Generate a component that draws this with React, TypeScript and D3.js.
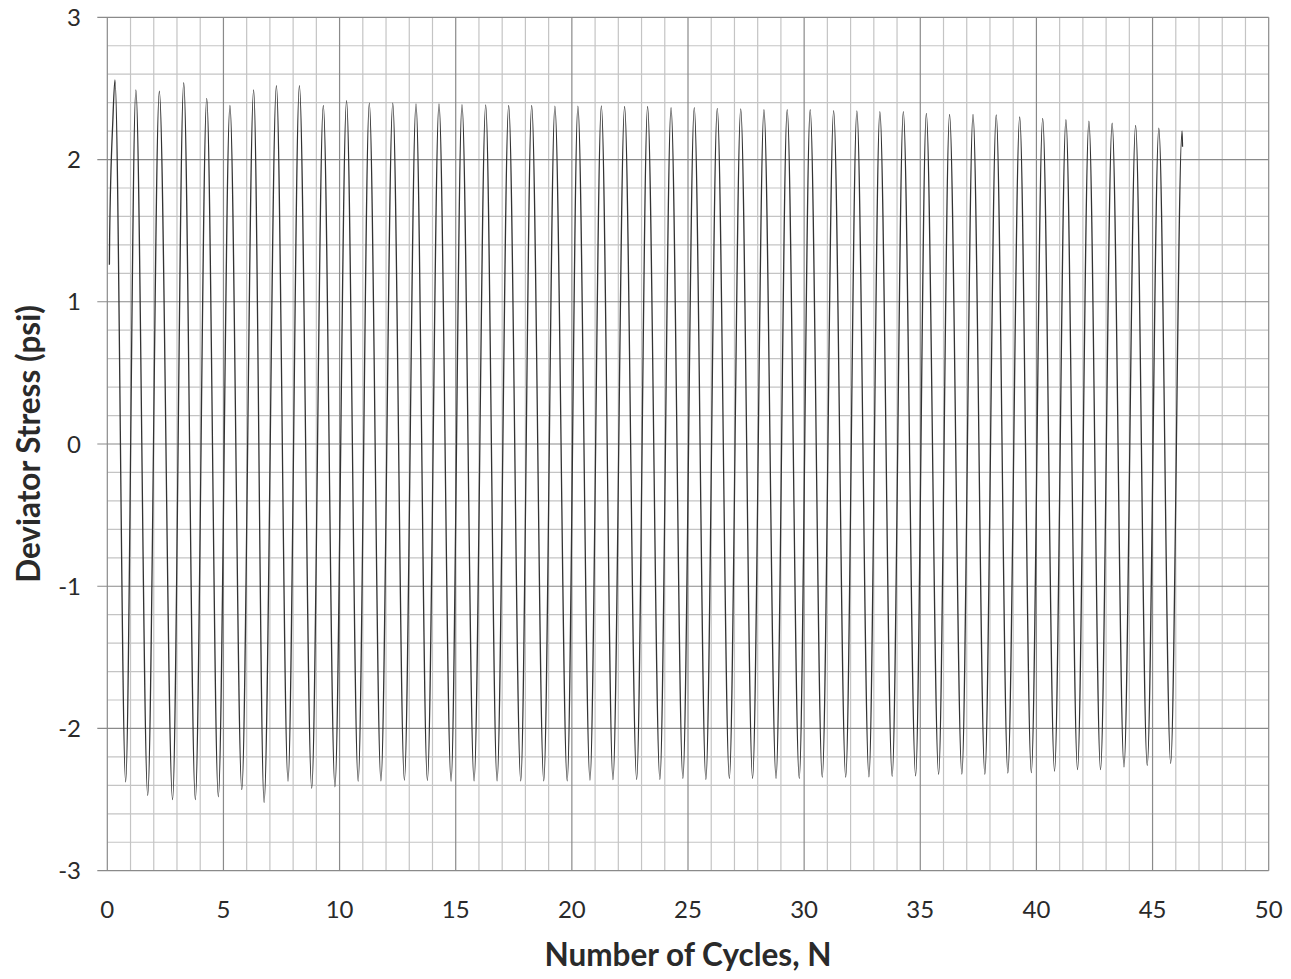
import React from 'react';
import * as d3 from 'd3';

// ---- data ----
const startCycle = [0.09, 0.10, 0.24];
const startStress = [1.26, 1.45, 2.28];

const peakCycle = [
  0.33, 1.23, 2.24, 3.29, 4.28, 5.28, 6.30, 7.28, 8.27, 9.30,
  10.30, 11.28, 12.29, 13.29, 14.28, 15.27, 16.29, 17.28, 18.27, 19.27,
  20.26, 21.27, 22.27, 23.26, 24.27, 25.27, 26.26, 27.27, 28.27, 29.27,
  30.26, 31.27, 32.27, 33.26, 34.27, 35.26, 36.26, 37.27, 38.27, 39.28,
  40.27, 41.27, 42.26, 43.26, 44.27, 45.27, 46.27,
];
const peakStress = [
  2.56, 2.49, 2.48, 2.54, 2.43, 2.38, 2.49, 2.52, 2.52, 2.38,
  2.414, 2.396, 2.396, 2.391, 2.391, 2.386, 2.384, 2.38, 2.38, 2.375,
  2.375, 2.377, 2.373, 2.373, 2.364, 2.365, 2.36, 2.356, 2.35, 2.35,
  2.35, 2.344, 2.342, 2.337, 2.337, 2.325, 2.318, 2.318, 2.314, 2.30,
  2.29, 2.28, 2.27, 2.255, 2.24, 2.22, 2.20,
];

const troughCycle = [
  0.79, 1.74, 2.81, 3.79, 4.78, 5.79, 6.75, 7.78, 8.80, 9.80,
  10.80, 11.78, 12.79, 13.78, 14.80, 15.79, 16.78, 17.80, 18.79, 19.80,
  20.78, 21.77, 22.79, 23.79, 24.78, 25.77, 26.78, 27.78, 28.79, 29.79,
  30.78, 31.79, 32.79, 33.79, 34.80, 35.79, 36.79, 37.78, 38.77, 39.78,
  40.78, 41.77, 42.76, 43.77, 44.77, 45.78,
];
const troughStress = [
  -2.375, -2.47, -2.50, -2.50, -2.48, -2.43, -2.52, -2.37, -2.42, -2.41,
  -2.37, -2.368, -2.363, -2.365, -2.37, -2.368, -2.368, -2.368, -2.368, -2.368,
  -2.363, -2.36, -2.358, -2.358, -2.35, -2.358, -2.35, -2.35, -2.35, -2.35,
  -2.342, -2.342, -2.34, -2.337, -2.333, -2.323, -2.321, -2.323, -2.314, -2.31,
  -2.30, -2.29, -2.29, -2.27, -2.26, -2.245,
];

const endCycle = [46.29];
const endStress = [2.09];

const xTickValues = [0, 5, 10, 15, 20, 25, 30, 35, 40, 45, 50];
const yTickValues = [-3, -2, -1, 0, 1, 2, 3];

const xTitle = 'Number of Cycles, N';
const yTitle = 'Deviator Stress (psi)';

// ---- layout ----
const W = 1291;
const H = 979;
const left = 107.3;
const right = 1268.7;
const top = 17.3;
const bottom = 870.7;

export default function App() {
  const x = d3.scaleLinear().domain([0, 50]).range([left, right]);
  const y = d3.scaleLinear().domain([-3, 3]).range([bottom, top]);

  const pts: [number, number][] = [];
  startCycle.forEach((c, i) => pts.push([c, startStress[i]]));
  peakCycle.forEach((c, i) => pts.push([c, peakStress[i]]));
  troughCycle.forEach((c, i) => pts.push([c, troughStress[i]]));
  endCycle.forEach((c, i) => pts.push([c, endStress[i]]));
  pts.sort((a, b) => a[0] - b[0]);

  const line = d3
    .line<[number, number]>()
    .x((d) => x(d[0]))
    .y((d) => y(d[1]))
    .curve(d3.curveMonotoneX);

  const minorX = d3.range(0, 51, 1).filter((v) => v % 5 !== 0);
  const minorY = d3.range(-30, 31, 2).map((v) => v / 10).filter((v) => Math.abs(v - Math.round(v)) > 1e-6);

  const font = 'Lato, "Open Sans", sans-serif';

  return (
    <svg
      width={W}
      height={H}
      style={{ position: 'absolute', left: 0, top: 0, background: '#fff' }}
    >
      <rect x={0} y={0} width={W} height={H} fill="#fff" />
      {/* minor grid */}
      <g stroke="#c4c4c4" strokeWidth={1.2}>
        {minorX.map((v) => (
          <line key={'mx' + v} x1={x(v)} x2={x(v)} y1={top} y2={bottom} />
        ))}
        {minorY.map((v) => (
          <line key={'my' + v} x1={left} x2={right} y1={y(v)} y2={y(v)} />
        ))}
      </g>
      {/* major grid */}
      <g stroke="#8a8a8a" strokeWidth={1.2}>
        {xTickValues.map((v) => (
          <line key={'Mx' + v} x1={x(v)} x2={x(v)} y1={top} y2={bottom} />
        ))}
        {yTickValues.map((v) => (
          <line key={'My' + v} x1={left - 10} x2={right} y1={y(v)} y2={y(v)} />
        ))}
      </g>
      {/* data */}
      <path d={line(pts) || ''} fill="none" stroke="#333" strokeWidth={1.3} />
      {/* tick labels */}
      <g fontFamily={font} fontSize={24} fill="#2a2a2a">
        {xTickValues.map((v) => (
          <text key={'xt' + v} x={x(v)} y={918} textAnchor="middle">
            {v}
          </text>
        ))}
        {yTickValues.map((v) => (
          <text key={'yt' + v} x={81} y={y(v) + 8.6} textAnchor="end">
            {v}
          </text>
        ))}
      </g>
      {/* titles */}
      <text
        x={(left + right) / 2}
        y={966}
        textAnchor="middle"
        fontFamily={font}
        fontWeight="bold"
        fontSize={31.5}
        fill="#2a2a2a"
      >
        {xTitle}
      </text>
      <text
        transform={`translate(40, ${(top + bottom) / 2}) rotate(-90)`}
        textAnchor="middle"
        fontFamily={font}
        fontWeight="bold"
        fontSize={31.5}
        fill="#2a2a2a"
      >
        {yTitle}
      </text>
    </svg>
  );
}
